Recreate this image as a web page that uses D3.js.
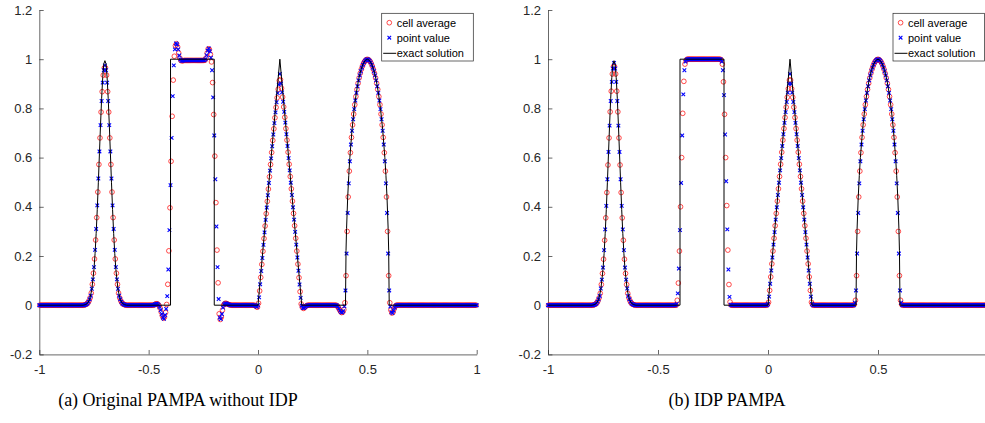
<!DOCTYPE html>
<html><head><meta charset="utf-8">
<script src="https://cdn.jsdelivr.net/npm/d3@7"></script>
<style>body{margin:0;background:#fff}svg{display:block}</style>
</head><body>
<script>
// ---------- data ----------
const xTickLabels = ["-1","-0.5","0","0.5","1"];
const xTickValues = [-1,-0.5,0,0.5,1];
const yTickLabels = ["-0.2","0","0.2","0.4","0.6","0.8","1","1.2"];
const yTickValues = [-0.2,0,0.2,0.4,0.6,0.8,1,1.2];
const seriesNames = ["cell average","point value","exact solution"];
const captions = ["(a) Original PAMPA without IDP","(b) IDP PAMPA"];
const nCells = 400;

// cell averages, panel (a): 20 cells per row, each row is 0.1 wide
const avgA = [
 [0,0,0,0,0, 0,0,0,0,0, 0,0,0,0,0, 0,0,0,0,0],
 [0,0,0,0,0, 0,0,0,0,0, 0,0,0,0,0, 0,0,0,0,0],
 [0,.001,.003,.005,.01, .018,.03,.049,.085,.13, .188,.265,.356,.46,.572, .68,.785,.868,.935,.965],
 [.965,.935,.868,.785,.68, .572,.46,.356,.265,.188, .13,.085,.049,.03,.018, .01,.005,.003,.001,0],
 [0,0,0,0,0, 0,0,0,0,0, 0,0,0,0,0, 0,0,0,0,0],
 [0,0,0,0,0, .002,.005,.006,.004,-.002, -.012,-.028,-.043,-.053,-.048, -.03,.003,.085,.221,.396],
 [.585,.768,.915,1.012,1.055, 1.063,1.05,1.025,1.005,.995, .993,.994,.995,.995,.995, .995,.995,.995,.995,.995],
 [.995,.995,.995,.995,.995, .995,.995,.995,.995,.995, .995,.996,1.005,1.025,1.042, 1.04,1.02,.989,.905,.775],
 [.606,.417,.224,.091,-.035, -.058,-.048,-.02,0,.006, .008,.006,.004,.002,.001, 0,0,0,0,0],
 [0,0,0,0,0, 0,0,0,0,0, 0,0,0,0,0, 0,0,-.002,-.006,-.008],
 [.008,.058,.113,.166,.219, .271,.322,.372,.422,.472, .522,.572,.621,.67,.717, .762,.804,.843,.878,.913],
 [.917,.882,.846,.806,.764, .718,.671,.622,.573,.523, .473,.423,.373,.323,.272, .22,.167,.112,.055,.005],
 [-.008,-.013,-.01,-.005,-.002, 0,0,0,0,0, 0,0,0,0,0, 0,0,0,0,0],
 [0,0,0,0,0, 0,0,0,0,0, 0,0,-.003,-.01,-.018, -.026,-.03,-.028,-.018,.01],
 [.12,.30,.44,.545,.62, .682,.733,.777,.815,.848, .877,.902,.924,.943,.959, .972,.983,.991,.996,.999],
 [.999,.996,.991,.983,.972, .959,.943,.924,.902,.877, .848,.815,.777,.733,.682, .62,.545,.44,.30,.12],
 [.01,-.02,-.032,-.028,-.015, -.005,0,0,0,0, 0,0,0,0,0, 0,0,0,0,0],
 [0,0,0,0,0, 0,0,0,0,0, 0,0,0,0,0, 0,0,0,0,0],
 [0,0,0,0,0, 0,0,0,0,0, 0,0,0,0,0, 0,0,0,0,0],
 [0,0,0,0,0, 0,0,0,0,0, 0,0,0,0,0, 0,0,0,0,0]
].flat();

// point values (cell interfaces), panel (a)
const ptA = [
 [0,0,0,0,0, 0,0,0,0,0, 0,0,0,0,0, 0,0,0,0,0],
 [0,0,0,0,0, 0,0,0,0,0, 0,0,0,0,0, 0,0,0,0,0],
 [0,0,.002,.004,.007, .014,.024,.039,.067,.105, .155,.225,.31,.406,.515, .625,.732,.83,.905,.955],
 [.975,.955,.905,.83,.732, .625,.515,.406,.31,.225, .155,.105,.067,.039,.024, .014,.007,.004,.002,0],
 [0,0,0,0,0, 0,0,0,0,0, 0,0,0,0,0, 0,0,0,0,0],
 [0,0,0,0,0, .001,.004,.006,.005,.001, -.007,-.02,-.036,-.05,-.055, -.04,-.015,.037,.145,.305],
 [.488,.68,.85,.975,1.04, 1.064,1.06,1.04,1.015,.999, .993,.993,.995,.995,.995, .995,.995,.995,.995,.995],
 [.995,.995,.995,.995,.995, .995,.995,.995,.995,.995, .995,.995,1.0,1.016,1.035, 1.044,1.032,1.006,.955,.845],
 [.69,.512,.32,.155,.025, -.05,-.056,-.036,-.01,.003, .007,.007,.005,.003,.001, 0,0,0,0,0],
 [0,0,0,0,0, 0,0,0,0,0, 0,0,0,0,0, 0,0,-.001,-.004,-.007],
 [0,.032,.085,.139,.192, .245,.296,.347,.397,.447, .497,.547,.597,.646,.694, .74,.784,.825,.862,.897],
 [.94,.901,.865,.827,.786, .742,.695,.647,.598,.548, .498,.448,.398,.348,.298, .246,.194,.14,.084,.03],
 [-.002,-.011,-.012,-.008,-.004, -.001,0,0,0,0, 0,0,0,0,0, 0,0,0,0,0],
 [0,0,0,0,0, 0,0,0,0,0, 0,0,-.001,-.006,-.014, -.022,-.028,-.03,-.024,-.005],
 [.06,.21,.375,.495,.585, .653,.709,.756,.797,.832, .863,.89,.914,.934,.951, .966,.978,.987,.994,.998],
 [1,.998,.994,.987,.978, .966,.951,.934,.914,.89, .863,.832,.797,.756,.709, .653,.585,.495,.375,.21],
 [.06,-.006,-.028,-.032,-.022, -.01,-.002,0,0,0, 0,0,0,0,0, 0,0,0,0,0],
 [0,0,0,0,0, 0,0,0,0,0, 0,0,0,0,0, 0,0,0,0,0],
 [0,0,0,0,0, 0,0,0,0,0, 0,0,0,0,0, 0,0,0,0,0],
 [0,0,0,0,0, 0,0,0,0,0, 0,0,0,0,0, 0,0,0,0,0],
 [0]
].flat();

// cell averages, panel (b)
const avgB = [
 [0,0,0,0,0, 0,0,0,0,0, 0,0,0,0,0, 0,0,0,0,0],
 [0,0,0,0,0, 0,0,0,0,0, 0,0,0,0,0, 0,0,0,0,0],
 [0,.001,.003,.005,.01, .018,.03,.048,.084,.129, .187,.264,.355,.458,.57, .68,.786,.87,.94,.97],
 [.97,.94,.87,.786,.68, .57,.458,.355,.264,.187, .129,.084,.048,.03,.018, .01,.005,.003,.001,0],
 [0,0,0,0,0, 0,0,0,0,0, 0,0,0,0,0, 0,0,0,0,0],
 [0,0,0,0,0, 0,0,0,0,0, 0,0,0,0,0, 0,0,.02,.09,.22],
 [.40,.60,.78,.91,.98, .995,1,1,1,1, 1,1,1,1,1, 1,1,1,1,1],
 [1,1,1,1,1, 1,1,1,1,1, 1,1,1,1,1, 1,1,.997,.98,.908],
 [.776,.60,.405,.224,.084, .013,0,0,0,0, 0,0,0,0,0, 0,0,0,0,0],
 [0,0,0,0,0, 0,0,0,0,0, 0,0,0,0,0, 0,0,0,0,.002],
 [.012,.06,.115,.168,.22, .272,.323,.373,.423,.473, .523,.573,.622,.671,.718, .763,.805,.845,.88,.915],
 [.915,.88,.845,.805,.763, .718,.671,.622,.573,.523, .473,.423,.373,.323,.272, .22,.168,.115,.06,.012],
 [.002,0,0,0,0, 0,0,0,0,0, 0,0,0,0,0, 0,0,0,0,0],
 [0,0,0,0,0, 0,0,0,0,0, 0,0,0,0,0, 0,0,0,.003,.02],
 [.12,.30,.44,.545,.62, .682,.733,.777,.815,.848, .877,.902,.924,.943,.959, .972,.983,.991,.996,.999],
 [.999,.996,.991,.983,.972, .959,.943,.924,.902,.877, .848,.815,.777,.733,.682, .62,.545,.44,.30,.12],
 [.02,.003,0,0,0, 0,0,0,0,0, 0,0,0,0,0, 0,0,0,0,0],
 [0,0,0,0,0, 0,0,0,0,0, 0,0,0,0,0, 0,0,0,0,0],
 [0,0,0,0,0, 0,0,0,0,0, 0,0,0,0,0, 0,0,0,0,0],
 [0,0,0,0,0, 0,0,0,0,0, 0,0,0,0,0, 0,0,0,0,0]
].flat();

// point values, panel (b)
const ptB = [
 [0,0,0,0,0, 0,0,0,0,0, 0,0,0,0,0, 0,0,0,0,0],
 [0,0,0,0,0, 0,0,0,0,0, 0,0,0,0,0, 0,0,0,0,0],
 [0,0,.002,.004,.007, .014,.024,.038,.068,.104, .153,.224,.308,.404,.512, .623,.73,.83,.908,.962],
 [.985,.962,.908,.83,.73, .623,.512,.404,.308,.224, .153,.104,.068,.038,.024, .014,.007,.004,.002,0],
 [0,0,0,0,0, 0,0,0,0,0, 0,0,0,0,0, 0,0,0,0,0],
 [0,0,0,0,0, 0,0,0,0,0, 0,0,0,0,0, 0,0,.005,.048,.149],
 [.305,.497,.69,.857,.955, .99,.998,1,1,1, 1,1,1,1,1, 1,1,1,1,1],
 [1,1,1,1,1, 1,1,1,1,1, 1,1,1,1,1, 1,1,.999,.99,.955],
 [.854,.694,.504,.308,.145, .034,.002,0,0,0, 0,0,0,0,0, 0,0,0,0,0],
 [0,0,0,0,0, 0,0,0,0,0, 0,0,0,0,0, 0,0,0,0,0],
 [.005,.035,.087,.141,.194, .246,.297,.348,.398,.448, .498,.548,.598,.647,.695, .741,.785,.826,.864,.9],
 [.94,.9,.864,.826,.785, .741,.695,.647,.598,.548, .498,.448,.398,.348,.297, .246,.194,.141,.087,.035],
 [.005,0,0,0,0, 0,0,0,0,0, 0,0,0,0,0, 0,0,0,0,0],
 [0,0,0,0,0, 0,0,0,0,0, 0,0,0,0,0, 0,0,0,0,.01],
 [.06,.21,.375,.495,.585, .653,.709,.756,.797,.832, .863,.89,.914,.934,.951, .966,.978,.987,.994,.998],
 [1,.998,.994,.987,.978, .966,.951,.934,.914,.89, .863,.832,.797,.756,.709, .653,.585,.495,.375,.21],
 [.06,.01,0,0,0, 0,0,0,0,0, 0,0,0,0,0, 0,0,0,0,0],
 [0,0,0,0,0, 0,0,0,0,0, 0,0,0,0,0, 0,0,0,0,0],
 [0,0,0,0,0, 0,0,0,0,0, 0,0,0,0,0, 0,0,0,0,0],
 [0,0,0,0,0, 0,0,0,0,0, 0,0,0,0,0, 0,0,0,0,0],
 [0]
].flat();

// exact solution, read as breakpoints along the black curve
const exactX = [-1,-0.8,-0.79,-0.78,-0.77,-0.76,-0.75,-0.745,-0.74,-0.735,-0.73,-0.725,-0.72,-0.715,-0.71,-0.705,-0.7,
  -0.695,-0.69,-0.685,-0.68,-0.675,-0.67,-0.665,-0.66,-0.655,-0.65,-0.64,-0.63,-0.62,-0.61,-0.6,
  -0.4,-0.4,-0.2,-0.2,0,0.1,0.2,
  0.4,0.4,0.4025,0.405,0.41,0.415,0.42,0.43,0.44,0.45,0.46,0.47,0.48,0.49,0.5,
  0.51,0.52,0.53,0.54,0.55,0.56,0.57,0.58,0.585,0.59,0.595,0.5975,0.6,1];
const exactY = [0,0,.002,.007,.023,.063,.146,.21,.292,.389,.5,.618,.735,.841,.926,.981,.994,
  .981,.926,.841,.735,.618,.5,.389,.292,.21,.146,.063,.023,.007,.002,0,
  0,1,1,0,0,1,0,
  0,0,.222,.312,.436,.527,.6,.714,.8,.866,.917,.954,.98,.995,1,
  .995,.98,.954,.917,.866,.8,.714,.6,.527,.436,.312,.222,0,0];

if (avgA.length!==nCells||avgB.length!==nCells||ptA.length!==nCells+1||ptB.length!==nCells+1||exactX.length!==exactY.length)
  throw new Error("length mismatch "+[avgA.length,avgB.length,ptA.length,ptB.length,exactX.length,exactY.length]);

// ---------- drawing ----------
const W = 985, H = 423;
const cellCenters = d3.range(nCells).map(i => -1 + (i + 0.5) * 2 / nCells);
const cellFaces = d3.range(nCells + 1).map(i => -1 + i * 2 / nCells);

const svg = d3.select("body").append("svg").attr("width", W).attr("height", H)
  .style("font-family", "'Liberation Sans', Arial, Helvetica, sans-serif");

const panels = [
  {avg: avgA, pt: ptA, x0: 39.3, x1: 476.7, cap: captions[0], capX: 178},
  {avg: avgB, pt: ptB, x0: 548, x1: 988, cap: captions[1], capX: 727}
];
const yTop = 10, yBot = 354.4;
const axisColor = "#262626";
const circleR = 2.35, crossS = 1.8;

panels.forEach(p => {
  const x = d3.scaleLinear().domain([-1, 1]).range([p.x0, p.x1]);
  const y = d3.scaleLinear().domain([-0.2, 1.2]).range([yBot, yTop]);
  const g = svg.append("g");

  // axes (MATLAB style, box off, ticks inward)
  const ax = g.append("g").attr("transform", `translate(0,${yBot})`)
    .call(d3.axisBottom(x).tickValues(xTickValues).tickFormat((d,i) => xTickLabels[i])
      .tickSizeInner(-4.4).tickSizeOuter(0).tickPadding(10.5));
  const ay = g.append("g").attr("transform", `translate(${p.x0},0)`)
    .call(d3.axisLeft(y).tickValues(yTickValues).tickFormat((d,i) => yTickLabels[i])
      .tickSizeInner(-4.4).tickSizeOuter(0).tickPadding(7));
  [ax, ay].forEach(a => {
    a.select(".domain").attr("stroke", axisColor).attr("stroke-width", 0.7);
    a.selectAll(".tick line").attr("stroke", axisColor).attr("stroke-width", 0.7);
    a.selectAll(".tick text").attr("fill", axisColor).style("font-size", "13px")
      .style("font-family", "'Liberation Sans', Arial, sans-serif");
  });

  // cell averages: red circles
  g.append("g").selectAll("circle").data(p.avg).join("circle")
    .attr("cx", (d, i) => x(cellCenters[i])).attr("cy", d => y(d)).attr("r", circleR)
    .attr("fill", "none").attr("stroke", "#ff0000").attr("stroke-width", 0.7);

  // point values: blue crosses
  const s = crossS;
  g.append("g").selectAll("path").data(p.pt).join("path")
    .attr("transform", (d, i) => `translate(${x(cellFaces[i])},${y(d)})`)
    .attr("d", `M${-s},${-s}L${s},${s}M${-s},${s}L${s},${-s}`)
    .attr("stroke", "#0000ff").attr("stroke-width", 1.1).attr("fill", "none");

  // exact solution: black line
  const line = d3.line().x(d => x(d[0])).y(d => y(d[1]));
  g.append("path").datum(exactX.map((v, i) => [v, exactY[i]]))
    .attr("d", line).attr("fill", "none").attr("stroke", "#000").attr("stroke-width", 1);

  // legend
  const lr = x(1) - 3.4, lw = 91.6, lt = 13.3, lh = 47.7, ll = lr - lw;
  const lg = g.append("g");
  lg.append("rect").attr("x", ll).attr("y", lt).attr("width", lw).attr("height", lh)
    .attr("fill", "#fff").attr("stroke", axisColor).attr("stroke-width", 0.7);
  const rows = [lt + 9.4, lt + 24.4, lt + 40];
  const mx = ll + 7.6;
  lg.append("circle").attr("cx", mx).attr("cy", rows[0]).attr("r", circleR)
    .attr("fill", "none").attr("stroke", "#ff0000").attr("stroke-width", 0.7);
  lg.append("path").attr("transform", `translate(${mx},${rows[1]})`)
    .attr("d", `M${-s},${-s}L${s},${s}M${-s},${s}L${s},${-s}`)
    .attr("stroke", "#0000ff").attr("stroke-width", 1.1);
  lg.append("line").attr("x1", ll + 1.5).attr("x2", ll + 14.5).attr("y1", rows[2]).attr("y2", rows[2])
    .attr("stroke", "#000").attr("stroke-width", 1);
  seriesNames.forEach((t, i) => {
    lg.append("text").attr("x", ll + 15).attr("y", rows[i] + 4).text(t)
      .attr("fill", "#000").style("font-size", "11px");
  });

  // caption
  svg.append("text").attr("x", p.capX).attr("y", 406).attr("text-anchor", "middle")
    .style("font-family", "'Liberation Serif', 'Times New Roman', serif").style("font-size", "18px")
    .attr("fill", "#000").text(p.cap);
});
</script>
</body></html>
